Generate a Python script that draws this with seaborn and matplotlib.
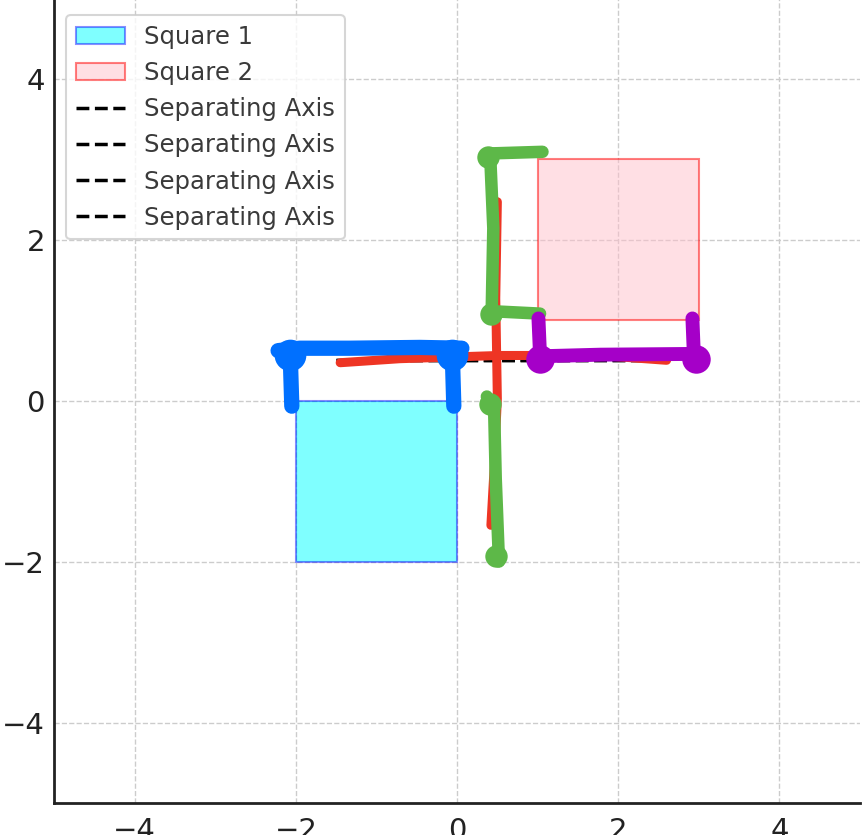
import matplotlib
matplotlib.use("Agg")
import matplotlib.pyplot as plt
import seaborn as sns

# squares (corner lists)
sq1_x = [-2, 0, 0, -2]
sq1_y = [-2, -2, 0, 0]
sq2_x = [1, 3, 3, 1]
sq2_y = [1, 1, 3, 3]

# separating axes (drawn as dashed lines)
axis_lines = [
    ([-1.5, 2.5], [0.5, 0.5]),
    ([0.5, 0.5], [-1.5, 2.5]),
    ([-1.5, 2.5], [0.5, 0.5]),
    ([0.5, 0.5], [-1.5, 2.5]),
]

# hand drawn marks on top of the plot
blue_paths = [
    ([-2.22, -1.95, -1.33, -0.46, 0.06], [0.62, 0.65, 0.65, 0.66, 0.65]),
    ([-2.07, -2.05], [0.58, -0.07]),
    ([-0.06, -0.04], [0.62, -0.07]),
]
blue_dots = ([-2.07, -0.06], [0.57, 0.57])

red_paths = [
    ([-1.45, -0.71, 0.53, 1.78, 2.6], [0.47, 0.52, 0.56, 0.56, 0.5]),
    ([0.50, 0.48, 0.50, 0.46, 0.42], [2.47, 1.27, 0.02, -0.84, -1.55]),
]

green_paths = [
    ([1.06, 0.41, 0.45, 0.43, 1.03], [3.09, 3.07, 2.14, 1.11, 1.08]),
    ([0.37, 0.46, 0.48, 0.52], [0.05, -0.10, -0.97, -2.0]),
]
green_dots = ([0.39, 0.42, 0.48, 0.41], [3.03, 1.07, -1.93, -0.04])

purple_paths = [
    ([1.01, 1.03], [1.02, 0.55]),
    ([1.03, 1.78, 3.02], [0.55, 0.57, 0.58]),
    ([2.92, 2.94], [1.02, 0.52]),
]
purple_dots = ([1.03, 2.96], [0.52, 0.52])

ticks = [-4, -2, 0, 2, 4]

sns.set_style("white")
fig = plt.figure(figsize=(8.63, 8.35), dpi=100)
ax = fig.add_axes([0.0626, 0.0383, 0.934, 0.964])

# squares
h1 = ax.fill(sq1_x, sq1_y, facecolor=(0, 1, 1, 0.5), edgecolor=(0, 0, 1, 0.45),
             linewidth=1.5, label="Square 1", zorder=2)[0]
h2 = ax.fill(sq2_x, sq2_y, facecolor=(1, 0.753, 0.796, 0.5), edgecolor=(1, 0, 0, 0.5),
             linewidth=1.5, label="Square 2", zorder=2)[0]

# separating axes
for xs, ys in axis_lines:
    sns.lineplot(x=xs, y=ys, sort=False, estimator=None, ax=ax, color="black",
                 linestyle="--", linewidth=2.5, label="Separating Axis", legend=False, zorder=3)
axis_handles = ax.lines[-4:]

# marker strokes
def strokes(paths, color, lw):
    for xs, ys in paths:
        sns.lineplot(x=xs, y=ys, sort=False, estimator=None, ax=ax, color=color,
                     linewidth=lw, solid_capstyle="round", solid_joinstyle="round",
                     legend=False, zorder=4)

strokes(red_paths, "#ee3524", 6.5)
strokes(green_paths, "#5db848", 9)
sns.scatterplot(x=green_dots[0], y=green_dots[1], ax=ax, color="#5db848", s=260,
                linewidth=0, legend=False, zorder=4)
strokes(purple_paths, "#a500c8", 10)
sns.scatterplot(x=purple_dots[0], y=purple_dots[1], ax=ax, color="#a500c8", s=420,
                linewidth=0, legend=False, zorder=4)
strokes(blue_paths, "#0070ff", 11)
sns.scatterplot(x=blue_dots[0], y=blue_dots[1], ax=ax, color="#0070ff", s=520,
                linewidth=0, legend=False, zorder=5)

ax.set_xlim(-5, 5)
ax.set_ylim(-5, 5)
ax.set_xticks(ticks)
ax.set_yticks(ticks)
ax.grid(True, color="#cccccc", linestyle="--", linewidth=1)
ax.set_axisbelow(True)

for side in ["top", "right"]:
    ax.spines[side].set_visible(False)
for side in ["left", "bottom"]:
    ax.spines[side].set_linewidth(2)
    ax.spines[side].set_color("#222222")

ax.tick_params(axis="both", direction="in", length=6, width=1.5, labelsize=21,
               labelcolor="#222222", color="#222222")
ax.tick_params(axis="x", pad=10)
ax.tick_params(axis="y", pad=6.5)

leg = ax.legend(handles=[h1, h2] + axis_handles, loc="upper left", fontsize=17.5,
                frameon=True, fancybox=True, borderaxespad=0.5,
                bbox_to_anchor=(0, 0.9938))
leg.get_frame().set_edgecolor("#cccccc")
leg.get_frame().set_linewidth(1.5)
for t in leg.get_texts():
    t.set_color("#3a3a3a")

plt.savefig("out.png", dpi=100)
